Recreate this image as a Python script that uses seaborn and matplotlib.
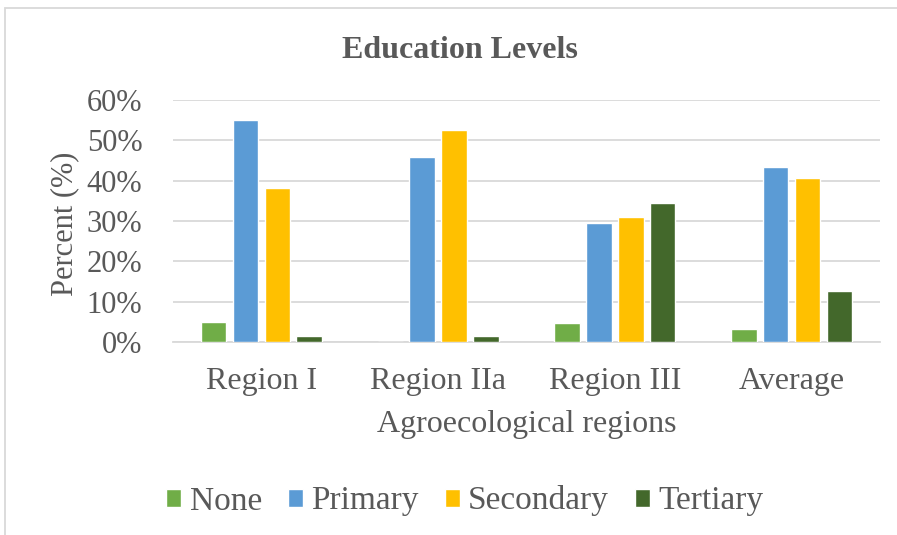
import numpy as np
import pandas as pd
import seaborn as sns
from matplotlib import pyplot as plt
from matplotlib.patches import Rectangle
from matplotlib.ticker import PercentFormatter

regions = ["Region I", "Region IIa", "Region III", "Average"]
levels = ["None", "Primary", "Secondary", "Tertiary"]
none = [0.049, 0.0, 0.047, 0.032]
primary = [0.551, 0.459, 0.295, 0.433]
secondary = [0.383, 0.526, 0.311, 0.406]
tertiary = [0.016, 0.016, 0.344, 0.126]
colors = ["#70AD47", "#5B9BD5", "#FFC000", "#43682B"]

rows = []
for level, values in zip(levels, [none, primary, secondary, tertiary]):
    for region, v in zip(regions, values):
        rows.append((region, level, v))
df = pd.DataFrame(rows, columns=["region", "level", "share"])

sns.set_style("white")
plt.rcParams["font.family"] = ["Liberation Serif", "DejaVu Serif"]
text_color = "#595959"

fig = plt.figure(figsize=(8.97, 5.35), dpi=100)
ax = fig.add_axes([173 / 897, 1 - 342 / 535, 707 / 897, 242 / 535])

sns.barplot(data=df, x="region", y="share", hue="level", palette=colors,
            hue_order=levels, order=regions, width=0.72, gap=0.2,
            saturation=1, ax=ax, zorder=3)

ax.set_ylim(0, 0.6)
ax.set_yticks(np.arange(0, 0.61, 0.1))
ax.yaxis.set_major_formatter(PercentFormatter(1.0, decimals=0))
ax.grid(axis="y", color="#D9D9D9", linewidth=1.3, zorder=0)
for side in ["top", "right", "left"]:
    ax.spines[side].set_visible(False)
ax.spines["bottom"].set_color("#D9D9D9")
ax.spines["bottom"].set_linewidth(1.3)
ax.tick_params(axis="both", length=0, colors=text_color)
ax.tick_params(axis="y", labelsize=22, pad=22)
ax.tick_params(axis="x", labelsize=23, pad=18)
ax.set_xlabel("Agroecological regions", fontsize=23, color=text_color)
ax.xaxis.set_label_coords(0.5, -0.28)
ax.set_ylabel("Percent (%)", fontsize=22, color=text_color)
ax.yaxis.set_label_coords(-0.132, 0.49)

# chart title is centred on the whole chart box, not on the plot area
fig.text(460 / 897, 1 - 58 / 535, "Education Levels", fontsize=23, fontweight="bold",
         color=text_color, ha="center", va="baseline")

handles, labels = ax.get_legend_handles_labels()
ax.legend(handles, labels, loc="center", bbox_to_anchor=(465 / 897, 1 - 501 / 535),
          bbox_transform=fig.transFigure, ncol=4, frameon=False, fontsize=24,
          labelcolor=text_color, handlelength=0.45, handleheight=0.45,
          handletextpad=0.25, columnspacing=0.78, borderpad=0, borderaxespad=0)

fig.patches.append(Rectangle((5 / 897, -0.1), 1.2, 1 - 8 / 535 + 0.1,
                             transform=fig.transFigure, fill=False,
                             edgecolor="#D9D9D9", linewidth=1.3))

fig.savefig("out.png", dpi=100)
